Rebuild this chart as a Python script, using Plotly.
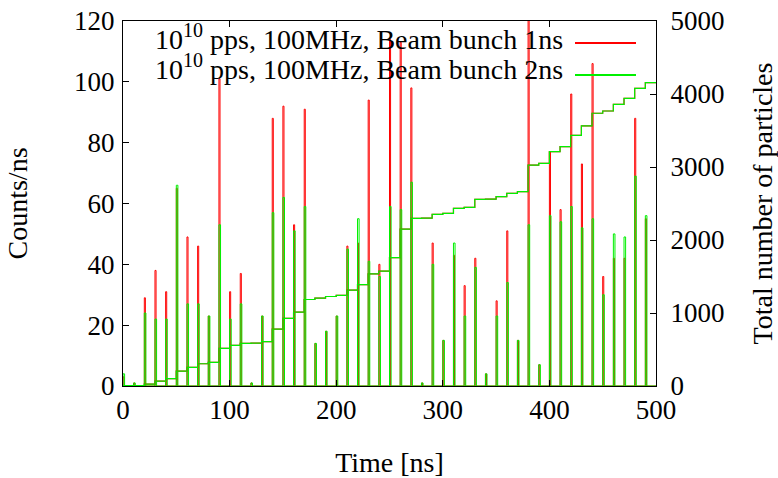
import plotly.graph_objects as go

# ---- data ----
bunch_t = list(range(0, 500, 10))  # ns, 100 MHz bunch structure
red_peak = [3, 1, 29, 38, 31, 65, 49, 46, 23, 101,
            31, 37, 1, 23, 88, 92, 53, 91, 14, 18,
            23, 46, 47, 94, 40, 114, 113, 98, 1, 47,
            15, 43, 33, 42, 4, 28, 51, 15, 125, 7,
            77, 58, 96, 73, 106, 36, 42, 42, 88, 55]
green_peak = [4, 1, 24, 22, 22, 66, 27, 27, 23, 53,
              22, 27, 1, 23, 57, 62, 51, 59, 14, 18,
              23, 45, 55, 41, 36, 59, 58, 67, 1, 40,
              15, 47, 23, 39, 4, 23, 34, 15, 53, 7,
              56, 54, 59, 52, 55, 30, 50, 49, 69, 56]
cum_total = [4, 5, 27, 68, 100, 205, 255, 305, 325, 515,
             557, 585, 587, 607, 780, 927, 1012, 1185, 1203, 1226,
             1242, 1313, 1390, 1535, 1575, 1758, 2150, 2297, 2300, 2352,
             2365, 2434, 2448, 2557, 2560, 2593, 2639, 2662, 3027, 3050,
             3210, 3278, 3434, 3562, 3736, 3767, 3858, 3941, 4078, 4155]
t_end = 500
SUP = '<sup><span style="font-size:20px">10</span></sup>'
label_1ns = "10" + SUP + " pps, 100MHz, Beam bunch 1ns"
label_2ns = "10" + SUP + " pps, 100MHz, Beam bunch 2ns"

RED = "#ff0000"
GREEN = "#00f000"
FONT = "Liberation Serif"


def spike_steps(times, vals, width):
    xs, ys = [0], [0]
    for t, v in zip(times, vals):
        if v <= 0:
            continue
        xs += [t, t + width]
        ys += [v, 0]
    xs.append(t_end)
    ys.append(0)
    return xs, ys


xr, yr = spike_steps(bunch_t, red_peak, 1)
xg, yg = spike_steps(bunch_t, green_peak, 1.5)
xc = bunch_t + [t_end]
yc = cum_total + [cum_total[-1]]

fig = go.Figure()
fig.add_trace(go.Scatter(x=xr, y=yr, mode="lines", line=dict(color=RED, width=1, shape="hv"),
                         name="1ns", showlegend=False))
fig.add_trace(go.Scatter(x=xg, y=yg, mode="lines", line=dict(color=GREEN, width=1, shape="hv"),
                         name="2ns", showlegend=False))
fig.add_trace(go.Scatter(x=xc, y=yc, mode="lines", yaxis="y2",
                         line=dict(color=RED, width=1.2, shape="hv"), showlegend=False))
fig.add_trace(go.Scatter(x=xc, y=yc, mode="lines", yaxis="y2",
                         line=dict(color=GREEN, width=1.2, shape="hv"), showlegend=False))

axis_common = dict(showgrid=False, zeroline=False, showline=True, linecolor="black", linewidth=1,
                   ticks="inside", ticklen=6, tickcolor="black", tickwidth=1, automargin=False,
                   tickfont=dict(family=FONT, size=27, color="black"))

fig.update_layout(
    width=778, height=478,
    margin=dict(l=123, r=122, t=21, b=92),
    paper_bgcolor="white", plot_bgcolor="white",
    font=dict(family=FONT, size=27, color="black"),
    showlegend=False,
    xaxis=dict(range=[0, 500], tickvals=[0, 100, 200, 300, 400, 500], mirror="ticks",
               title=dict(text="Time [ns]", standoff=30, font=dict(family=FONT, size=28)), **axis_common),
    yaxis=dict(range=[0, 120], tickvals=[0, 20, 40, 60, 80, 100, 120], mirror=True,
               ticklabelstandoff=2,
               title=dict(text="Counts/ns", standoff=38, font=dict(family=FONT, size=28)), **axis_common),
    yaxis2=dict(range=[0, 5000], tickvals=[0, 1000, 2000, 3000, 4000, 5000], overlaying="y",
                side="right", ticklabelstandoff=8,
                title=dict(text="Total number of particles", standoff=34, font=dict(family=FONT, size=28)),
                **axis_common),
)

fig.add_annotation(text=label_1ns, xref="paper", yref="paper", x=(565 - 123) / 533, y=(386 - 37) / 365,
                   xanchor="right", yanchor="middle", showarrow=False,
                   font=dict(family=FONT, size=28, color="black"))
fig.add_annotation(text=label_2ns, xref="paper", yref="paper", x=(565 - 123) / 533, y=(386 - 67) / 365,
                   xanchor="right", yanchor="middle", showarrow=False,
                   font=dict(family=FONT, size=28, color="black"))
fig.add_shape(type="line", xref="paper", yref="paper", x0=(575 - 123) / 533, x1=(636 - 123) / 533,
              y0=(386 - 43) / 365, y1=(386 - 43) / 365, line=dict(color=RED, width=2))
fig.add_shape(type="line", xref="paper", yref="paper", x0=(575 - 123) / 533, x1=(636 - 123) / 533,
              y0=(386 - 75) / 365, y1=(386 - 75) / 365, line=dict(color=GREEN, width=2))

fig.write_html("out.html")
